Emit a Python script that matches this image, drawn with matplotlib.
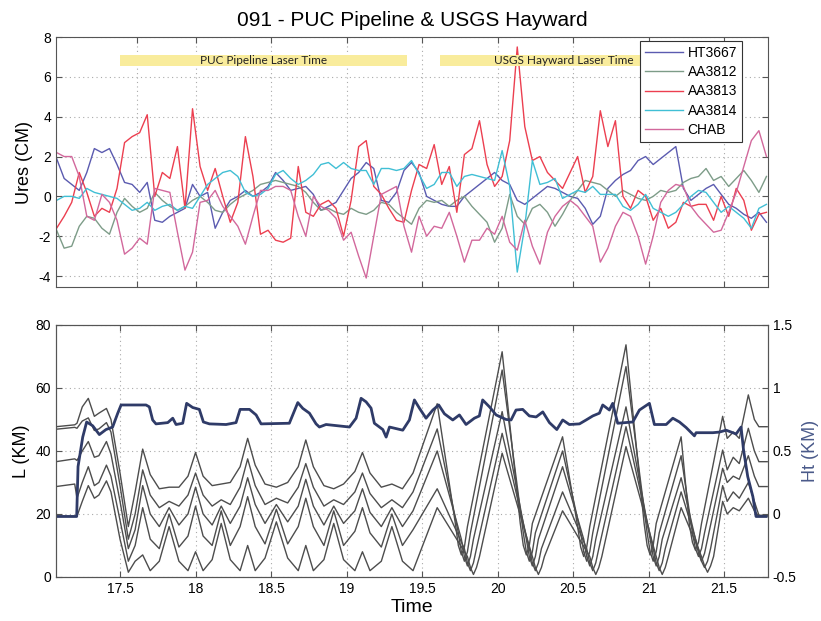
import numpy as np
import matplotlib
matplotlib.use("Agg")
import matplotlib.pyplot as plt

plt.rcParams['font.family'] = ['Liberation Sans', 'DejaVu Sans']

# ---------------- top panel data (Ures, cm) ----------------
ures_time = [round(17.08 + 0.05 * i, 2) for i in range(95)]

ht3667 = [1.9, 0.9, 0.6, 0.3, 1.2, 2.4, 2.2, 2.4, 1.6, 0.7, 0.6, 0.2, 0.7, -1.2, -1.3, -1.0, -0.8, -0.6, 0.6, 0.0,
          0.2, -1.6, -0.8, -0.2, 0.0, 0.3, 0.0, 0.2, 0.5, 1.2, 0.8, 0.3, 0.4, 0.5, 0.1, -0.7, -0.5, -0.3, 0.3, 0.9,
          1.2, 1.7, 1.4, -0.2, -0.3, 0.2, 1.3, 1.7, 1.2, 0.0, -0.2, -0.4, -0.5, -0.5, 0.0, 0.3, 0.6, 0.9, 1.2, 0.8,
          0.6, -0.2, -0.4, -0.1, 0.2, 0.5, 0.4, 0.2, 0.0, -0.1, -0.6, -1.4, -1.0, 0.4, 0.8, 1.1, 1.3, 1.8, 2.0, 1.6,
          1.9, 2.2, 2.5, 0.4, -0.2, 0.1, 0.4, 0.6, 0.1, -0.4, -0.6, -0.9, -1.1, -0.8, -1.3]
aa3812 = [-1.7, -2.6, -2.5, -1.5, -1.0, -1.1, -1.6, -1.9, -0.8, -0.1, -0.5, -0.8, -0.6, 0.2, -0.2, -0.5, -0.7, -0.5, -0.2, 0.0,
          -0.3, -0.7, -0.8, -0.4, -0.1, 0.1, 0.3, 0.6, 0.7, 0.8, 0.7, 0.6, 0.5, 0.2, -0.3, -0.7, -0.6, -0.8, -0.9, -0.6,
          -0.8, -0.9, -0.7, -0.3, -0.4, -0.8, -1.1, -1.4, -0.6, -0.2, -0.3, -0.2, -0.5, -0.2, 0.0, -0.5, -0.9, -1.3, -2.3, -1.6,
          0.1, -1.0, -1.4, -0.6, -0.4, -0.8, -1.5, -0.9, -0.2, 0.3, 0.8, 0.7, 0.6, 0.3, 0.0, 0.3, 0.1, -0.1, -0.2, 0.0,
          0.3, 0.2, 0.3, 0.7, 0.9, 1.0, 1.4, 0.8, 1.0, 0.5, 0.9, 1.3, 0.8, 0.2, 1.0]
aa3813 = [-1.6, -1.0, -0.3, 1.2, 0.2, -1.0, -0.6, -0.8, 0.4, 2.7, 3.0, 3.2, 4.1, 0.0, 1.2, 0.9, 2.5, -0.6, 4.4, 1.5,
          0.3, 1.4, 0.0, -1.3, -0.3, 3.0, 1.0, -1.9, -1.7, -2.2, -2.3, -2.1, 1.5, -0.8, -1.0, -0.4, -0.2, -0.6, -2.0, -0.2,
          2.5, 2.8, 0.5, 0.1, -0.6, -1.2, -1.3, 0.3, 1.6, 1.4, 2.6, 0.6, 1.5, -0.8, 2.1, 2.4, 3.8, 1.6, 0.5, 1.0,
          2.8, 7.5, 3.5, 1.8, 2.0, 1.2, 0.8, 0.4, 1.2, 2.0, 0.2, 1.0, 4.3, 2.5, 3.8, 0.0, -0.6, 0.3, 0.0, -1.2,
          -0.6, -1.6, -1.3, -0.3, -0.5, -0.4, -0.4, -1.2, 0.0, -1.0, 0.4, -0.2, -1.7, -0.9, -0.8]
aa3814 = [-0.2, 0.0, 0.0, -0.1, 0.4, 0.2, 0.1, 0.0, -0.1, -0.4, -0.7, -0.6, -0.3, -0.7, -0.5, -0.4, -0.7, -0.5, -0.6, 0.0,
          0.6, 0.9, 1.2, 1.3, 1.0, 0.2, 0.0, 0.1, 0.4, 1.1, 1.3, 0.9, 0.6, 0.8, 1.1, 1.6, 1.7, 1.4, 1.7, 1.4,
          1.3, 1.3, 0.6, 1.4, 1.4, 1.3, 1.4, 1.8, 1.1, 0.4, 0.6, 1.2, 1.2, 0.5, 1.0, 1.1, 1.0, 0.9, 0.8, 2.3,
          0.5, -3.8, -1.5, 1.8, 0.6, 0.7, 0.9, -0.1, 0.1, 0.3, 0.2, 0.5, 0.1, 0.1, 0.1, -0.5, -0.7, -0.4, 0.1, -0.6,
          -0.8, -1.0, -0.8, -0.4, 0.0, 0.3, 0.2, -0.3, -0.8, -0.5, -0.8, -1.1, -1.6, -0.6, -0.4]
chab = [2.2, 2.0, 2.0, 1.0, -1.0, -1.2, 0.1, -0.3, -1.2, -2.9, -2.6, -2.1, -2.4, 0.4, 0.3, 0.2, -1.8, -3.7, -2.8, -0.3,
        -0.2, 0.3, -0.5, -1.0, -1.5, -2.4, -1.0, 0.3, 0.3, 0.5, 0.5, 0.3, -1.0, -2.0, 0.0, -0.5, -0.7, -1.1, -2.2, -1.8,
        -3.0, -4.1, -2.0, 0.1, 0.3, 0.5, -1.5, -2.8, -1.0, -2.0, -1.5, -1.6, -0.8, -2.0, -3.3, -2.2, -2.2, -1.6, -1.9, -1.0,
        -2.3, -2.7, -1.2, -2.5, -3.4, -1.8, -1.0, -0.5, -0.2, -0.5, -1.0, -1.5, -3.3, -2.6, -1.5, -0.8, -1.0, -2.0, -3.4, -2.0,
        -0.3, 0.3, 0.6, 0.5, -0.5, -1.0, -1.4, -1.8, -1.7, -0.8, 0.2, 1.5, 2.8, 3.3, 2.0]

series_names = ['HT3667', 'AA3812', 'AA3813', 'AA3814', 'CHAB']
series_colors = ['#5b5bb0', '#7d9c88', '#ec3f50', '#40bfd5', '#d2689c']

laser_labels = ['PUC Pipeline Laser Time', 'USGS Hayward Laser Time']
laser_start = [17.50, 19.62]
laser_end = [19.40, 21.25]

# ---------------- bottom panel data ----------------
# shared sample times for the early (scalloped) part and the tail
l_time_early = [17.076, 17.20, 17.215, 17.25, 17.29, 17.33, 17.36, 17.41, 17.44, 17.50, 17.555, 17.60,
                17.65, 17.70, 17.76, 17.825, 17.89, 17.95, 18.00, 18.05, 18.11, 18.17, 18.23, 18.295,
                18.345, 18.395, 18.46, 18.535, 18.61, 18.68, 18.73, 18.78, 18.85, 18.915, 18.98, 19.055,
                19.105, 19.155, 19.23, 19.30, 19.37, 19.44]
l_time_tail = [21.49, 21.52, 21.56, 21.60, 21.66, 21.70, 21.73, 21.785]
# sample times in the large triangle part (troughs staggered per line)
l_time_big1 = [19.60, 19.72, 19.74, 19.76, 19.78, 19.80, 20.03, 20.15, 20.17, 20.19, 20.21, 20.23,
               20.43, 20.53, 20.55, 20.57, 20.59, 20.61, 20.85, 20.97, 20.99, 21.01, 21.03, 21.05,
               21.215, 21.27, 21.29, 21.31, 21.33, 21.35]
l_time_big2 = [19.60, 19.74, 19.76, 19.78, 19.80, 19.82, 20.03, 20.17, 20.19, 20.21, 20.23, 20.25,
               20.43, 20.55, 20.57, 20.59, 20.61, 20.63, 20.85, 20.99, 21.01, 21.03, 21.05, 21.07,
               21.215, 21.29, 21.31, 21.33, 21.35, 21.37]
l_time_big3 = [19.60, 19.76, 19.78, 19.80, 19.82, 19.84, 20.03, 20.19, 20.21, 20.23, 20.25, 20.27,
               20.43, 20.57, 20.59, 20.61, 20.63, 20.65, 20.85, 21.01, 21.03, 21.05, 21.07, 21.09,
               21.215, 21.31, 21.33, 21.35, 21.37, 21.39]
l_time_big4 = [19.60, 19.78, 19.80, 19.82, 19.84, 19.86, 20.03, 20.21, 20.23, 20.25, 20.27, 20.29,
               20.43, 20.59, 20.61, 20.63, 20.65, 20.67, 20.85, 21.03, 21.05, 21.07, 21.09, 21.11,
               21.215, 21.33, 21.35, 21.37, 21.39, 21.41]
l_time_big5 = [19.60, 19.80, 19.82, 19.84, 19.86, 19.88, 20.03, 20.23, 20.25, 20.27, 20.29, 20.31,
               20.43, 20.61, 20.63, 20.65, 20.67, 20.69, 20.85, 21.05, 21.07, 21.09, 21.11, 21.13,
               21.215, 21.35, 21.37, 21.39, 21.41, 21.43]

l_line1 = [47.7, 48.3, 48.8, 54.0, 56.7, 51.0, 52.0, 53.5, 50.0, 33.0, 16.0, 27.0,
           40.6, 32.5, 28.0, 28.5, 28.5, 32.0, 39.5, 32.0, 29.0, 29.5, 30.0, 35.0,
           44.0, 35.5, 29.5, 28.5, 30.0, 35.0, 43.5, 35.0, 29.0, 28.0, 29.5, 33.5,
           39.5, 33.0, 28.5, 29.5, 28.0, 33.0,
           55.0, 17.0, 10.0, 7.0, 9.5, 16.0, 71.5, 17.0, 10.0, 7.0, 10.0, 17.0,
           44.5, 16.0, 9.5, 6.5, 9.5, 16.0, 73.7, 17.0, 10.0, 7.0, 10.0, 17.0,
           44.5, 16.5, 11.0, 8.5, 11.0, 17.0,
           51.0, 44.0, 46.0, 44.0, 57.8, 50.0, 47.7, 47.7]
l_line2 = [46.9, 47.5, 47.2, 49.5, 50.5, 46.5, 47.0, 49.0, 46.0, 29.0, 12.0, 20.0,
           34.0, 26.0, 22.0, 24.0, 22.5, 26.0, 33.0, 26.0, 22.5, 24.5, 23.0, 28.5,
           37.5, 29.0, 23.0, 25.0, 23.5, 28.5, 36.0, 28.5, 22.5, 24.5, 23.0, 27.0,
           33.0, 26.5, 22.0, 24.5, 22.0, 27.0,
           47.0, 14.0, 8.0, 5.0, 8.0, 14.0, 65.7, 14.0, 8.0, 5.0, 8.0, 14.0,
           40.0, 14.0, 8.0, 5.0, 8.0, 14.0, 66.8, 14.0, 8.0, 5.0, 8.0, 14.0,
           38.5, 14.0, 9.0, 6.5, 9.0, 14.0,
           40.3, 34.0, 38.0, 36.0, 47.2, 40.0, 36.6, 36.6]
l_line3 = [36.6, 37.5, 37.0, 40.0, 43.0, 38.0, 38.5, 43.0, 39.0, 24.0, 9.0, 15.0,
           29.0, 20.0, 16.0, 22.0, 16.5, 20.0, 28.5, 20.0, 16.5, 22.5, 17.0, 22.5,
           31.5, 23.0, 17.0, 23.0, 17.5, 22.5, 31.0, 22.5, 16.5, 22.5, 17.0, 21.0,
           28.0, 20.5, 16.0, 22.0, 16.0, 21.0,
           40.0, 12.0, 6.5, 3.5, 6.5, 12.0, 52.5, 12.0, 6.5, 3.5, 6.5, 12.0,
           35.0, 12.0, 6.5, 3.5, 6.5, 12.0, 54.0, 12.0, 6.5, 3.5, 6.5, 12.0,
           31.5, 12.0, 7.5, 5.0, 7.5, 12.0,
           34.5, 30.0, 32.0, 31.0, 38.5, 32.0, 28.7, 28.7]
l_line4 = [28.7, 29.5, 25.0, 30.0, 35.0, 29.0, 30.0, 35.5, 32.0, 18.0, 5.0, 10.0,
           22.0, 12.0, 9.0, 20.0, 9.5, 13.0, 22.5, 13.0, 10.0, 21.0, 10.0, 16.0,
           25.5, 16.0, 10.5, 21.5, 10.5, 16.0, 25.0, 16.0, 10.0, 21.0, 10.0, 14.5,
           22.0, 14.0, 9.5, 20.0, 10.0, 15.0,
           28.0, 9.0, 4.5, 2.0, 4.5, 9.0, 45.6, 9.0, 4.5, 2.0, 4.5, 9.0,
           27.0, 9.0, 4.5, 2.0, 4.5, 9.0, 47.7, 9.0, 4.5, 2.0, 4.5, 9.0,
           27.0, 9.0, 5.0, 3.0, 5.0, 9.0,
           29.0, 24.0, 27.0, 25.0, 30.0, 24.0, 19.6, 19.6]
l_line5 = [19.3, 19.3, 19.3, 24.0, 29.0, 25.0, 26.0, 30.5, 27.0, 12.0, 1.5, 5.0,
           7.0, 2.0, 5.0, 16.0, 5.0, 2.0, 8.0, 2.0, 5.5, 17.0, 5.5, 2.0,
           10.0, 2.0, 6.0, 17.5, 6.0, 2.0, 10.0, 2.0, 5.5, 17.0, 5.5, 2.0,
           8.0, 2.0, 5.0, 16.0, 5.0, 2.0,
           22.0, 6.5, 3.0, 0.8, 3.0, 6.5, 39.3, 6.5, 3.0, 0.8, 3.0, 6.5,
           21.0, 6.5, 3.0, 0.8, 3.0, 6.5, 41.4, 6.5, 3.0, 0.8, 3.0, 6.5,
           22.0, 6.5, 3.5, 1.5, 3.5, 6.5,
           24.0, 20.0, 22.0, 21.0, 25.0, 21.0, 19.3, 19.3]

ht_time = [17.076, 17.213, 17.222, 17.253, 17.279, 17.319, 17.363, 17.407, 17.451, 17.485, 17.507,
           17.672, 17.694, 17.716, 17.738, 17.816, 17.849, 17.871, 17.915, 17.941, 17.981, 18.025,
           18.052, 18.092, 18.202, 18.268, 18.295, 18.357, 18.401, 18.434, 18.621, 18.677, 18.710,
           18.754, 18.798, 18.820, 18.864, 19.019, 19.063, 19.096, 19.129, 19.162, 19.184, 19.240,
           19.262, 19.284, 19.372, 19.416, 19.449, 19.482, 19.526, 19.571, 19.610, 19.648, 19.703,
           19.747, 19.791, 19.846, 19.879, 19.901, 19.946, 19.990, 20.056, 20.089, 20.122, 20.166,
           20.210, 20.255, 20.299, 20.343, 20.392, 20.431, 20.475, 20.542, 20.586, 20.630, 20.674,
           20.696, 20.740, 20.762, 20.795, 20.895, 20.939, 21.005, 21.038, 21.116, 21.160, 21.204,
           21.248, 21.303, 21.314, 21.425, 21.469, 21.513, 21.579, 21.612, 21.628, 21.656, 21.690,
           21.711, 21.778]
ht_km = [-0.02, -0.02, 0.376, 0.61, 0.73, 0.70, 0.63, 0.67, 0.69, 0.80, 0.865,
         0.865, 0.85, 0.746, 0.715, 0.725, 0.76, 0.71, 0.72, 0.878, 0.845, 0.83,
         0.73, 0.715, 0.71, 0.725, 0.83, 0.83, 0.786, 0.715, 0.72, 0.884, 0.838,
         0.80, 0.715, 0.69, 0.71, 0.69, 0.76, 0.918, 0.89, 0.84, 0.72, 0.67,
         0.61, 0.69, 0.665, 0.746, 0.905, 0.84, 0.76, 0.825, 0.865, 0.795, 0.746,
         0.786, 0.71, 0.76, 0.778, 0.905, 0.85, 0.786, 0.75, 0.746, 0.825, 0.83,
         0.778, 0.77, 0.81, 0.725, 0.67, 0.746, 0.71, 0.715, 0.746, 0.778, 0.80,
         0.865, 0.825, 0.878, 0.72, 0.73, 0.825, 0.878, 0.71, 0.71, 0.76, 0.73,
         0.686, 0.62, 0.645, 0.645, 0.65, 0.665, 0.635, 0.69, 0.51, 0.297, 0.138,
         -0.02, -0.02]

top_xticks = [17.61, 18.0, 18.5, 19.0, 19.5, 20.0, 20.5, 21.0, 21.5]
bottom_xticks = [17.5, 18.0, 18.5, 19.0, 19.5, 20.0, 20.5, 21.0, 21.5]
bottom_xticklabels = ['17.5', '18', '18.5', '19', '19.5', '20', '20.5', '21', '21.5']

# ---------------- figure ----------------
fig = plt.figure(figsize=(8.21, 6.21), dpi=100)
ax1 = fig.add_axes([0.0682, 0.5378, 0.8672, 0.4026])
ax2 = fig.add_axes([0.0682, 0.0709, 0.8672, 0.4058])
ax3 = ax2.twinx()

frame_col = '#555555'
grid_kw = dict(color='#aaaaaa', linestyle=(0, (1, 3)), linewidth=0.8)

# top panel
for vals, name, col in zip([ht3667, aa3812, aa3813, aa3814, chab], series_names, series_colors):
    ax1.plot(ures_time, vals, color=col, lw=1.0, label=name)

for lab, s, e in zip(laser_labels, laser_start, laser_end):
    ax1.barh(6.8, e - s, left=s, height=0.55, color='#f9ec9c', edgecolor='none', zorder=3)
    ax1.text((s + e) / 2, 6.8, lab, ha='center', va='center', fontsize=8.5,
             family=['Lato', 'DejaVu Sans'], color='#222222', zorder=4)

ax1.set_xlim(17.076, 21.79)
ax1.set_ylim(-4.55, 8)
ax1.set_yticks([-4, -2, 0, 2, 4, 6, 8])
ax1.set_yticklabels(['-4', '-2', '0', '2', '4', '6', '8'])
ax1.set_xticks(top_xticks)
ax1.set_xticklabels([])
ax1.grid(True, **grid_kw)
ax1.set_ylabel('Ures (CM)', fontsize=13)
ax1.set_title('091 - PUC Pipeline & USGS Hayward', fontsize=15, pad=8)
leg = ax1.legend(loc='upper right', bbox_to_anchor=(0.9635, 0.984), borderaxespad=0,
                 fontsize=10, handlelength=2.8, labelspacing=0.38, handletextpad=0.3,
                 fancybox=False, framealpha=1, edgecolor='#333333', borderpad=0.35)
leg.get_frame().set_linewidth(0.8)
leg.set_zorder(5)

# bottom panel
l_times = [l_time_early + big + l_time_tail
           for big in (l_time_big1, l_time_big2, l_time_big3, l_time_big4, l_time_big5)]
for tt, vals in zip(l_times, [l_line1, l_line2, l_line3, l_line4, l_line5]):
    ax2.plot(tt, vals, color='#4d4d4d', lw=1.0)
ax3.plot(ht_time, ht_km, color='#2f3b68', lw=2.0)

ax2.set_xlim(17.076, 21.79)
ax2.set_ylim(0, 80)
ax2.set_yticks([0, 20, 40, 60, 80])
ax2.set_xticks(bottom_xticks)
ax2.set_xticklabels(bottom_xticklabels)
ax2.grid(True, **grid_kw)
ax2.set_ylabel('L (KM)', fontsize=13)
ax2.set_xlabel('Time', fontsize=14, labelpad=2)
ax3.set_ylim(-0.5, 1.5)
ax3.set_yticks([-0.5, 0, 0.5, 1, 1.5])
ax3.set_yticklabels(['-0.5', '0', '0.5', '1', '1.5'])
ax3.set_ylabel('Ht (KM)', fontsize=13, color='#4a5a8a')

for ax in (ax1, ax2, ax3):
    for sp in ax.spines.values():
        sp.set_color(frame_col)
        sp.set_linewidth(0.8)
    ax.tick_params(direction='in', labelsize=10, color=frame_col, length=4, width=0.8)
ax1.tick_params(top=True, right=True)
ax2.tick_params(top=True)

fig.savefig('out.png', dpi=100)
